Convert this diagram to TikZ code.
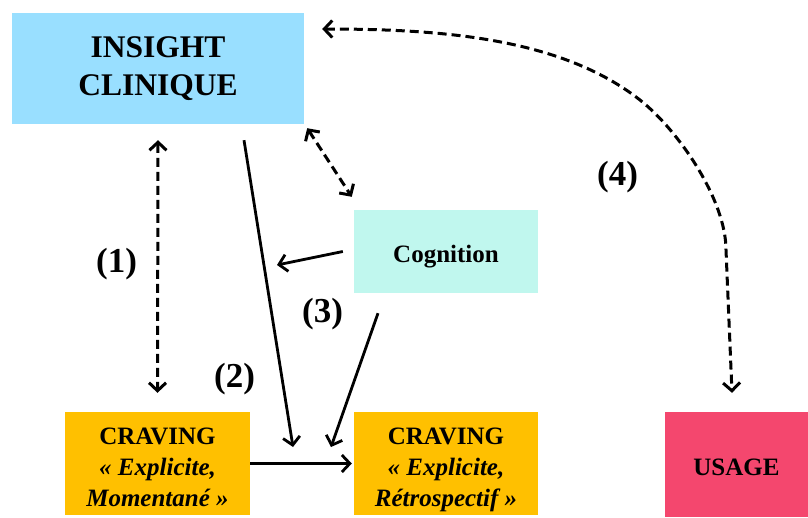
\documentclass[tikz,border=0pt]{standalone}
\usepackage{fontspec}
\setmainfont{Liberation Serif}
\usetikzlibrary{arrows.meta}
\definecolor{insightblue}{HTML}{99DFFF}
\definecolor{cogngreen}{HTML}{C0F7EE}
\definecolor{cravorange}{HTML}{FFC000}
\definecolor{usagered}{HTML}{F4476E}
\newcommand{\toprl}{\rule{0pt}{31pt}}
\newcommand{\botrl}{\rule[-8pt]{0pt}{8pt}}
\begin{document}
\begin{tikzpicture}[x=1pt,y=1pt,
    box/.style={inner sep=0pt,align=center},
    lbl/.style={inner sep=0pt,font=\fontsize{35}{40}\selectfont\bfseries},
    link/.style={line width=2.8pt,-{Straight Barb[length=8pt,width=17pt]}},
    dlink/.style={line width=3pt,dash pattern=on 9pt off 5pt,
      {Straight Barb[length=8pt,width=17pt]}-{Straight Barb[length=8pt,width=17pt]}}]
      \useasboundingbox (0,0) rectangle (808,-517);
      \node[box,fill=insightblue,minimum width=292pt,minimum height=111pt,
        font=\fontsize{31.5}{38}\selectfont\bfseries] (insight) at (158,-68.5) {INSIGHT\\CLINIQUE};
      \node[box,fill=cogngreen,minimum width=184pt,minimum height=83pt,text height=21pt,text depth=0pt,
        font=\fontsize{25}{29}\selectfont\bfseries] (cognition) at (446,-251.5) {Cognition};
      \node[box,fill=cravorange,minimum width=185pt,minimum height=103pt,
        font=\fontsize{25}{31}\selectfont\bfseries] (craving1) at (157.5,-463.5)
        {\toprl CRAVING\\\textit{« Explicite,}\\\textit{Momentané »}\botrl};
      \node[box,fill=cravorange,minimum width=184pt,minimum height=103pt,
        font=\fontsize{25}{31}\selectfont\bfseries] (craving2) at (446,-463.5)
        {\toprl CRAVING\\\textit{« Explicite,}\\\textit{Rétrospectif »}\botrl};
      \node[box,fill=usagered,minimum width=143pt,minimum height=105pt,text height=22pt,text depth=0pt,
        font=\fontsize{25}{30}\selectfont\bfseries] (usage) at (736.5,-464.5) {USAGE};
      \node[lbl] (l1) at (116.5,-264) {(1)};
      \node[lbl] (l2) at (234.5,-379) {(2)};
      \node[lbl] (l3) at (322.5,-314) {(3)};
      \node[lbl] (l4) at (617.5,-177) {(4)};
      \coordinate (m1) at (277,-265);
      \coordinate (m2) at (293,-447);
      \coordinate (m3) at (331,-447);
      \draw[dlink] ([yshift=-16pt]insight.south) -- ([yshift=19pt]craving1.north);
      \draw[dlink] ([shift={(3pt,-4pt)}]insight.south east) -- ([shift={(-2pt,13pt)}]cognition.north west);
      \draw[link] ([shift={(86pt,-16pt)}]insight.south) -- (m2);
      \draw[link] ([xshift=-11pt]cognition.west) -- (m1);
      \draw[link] ([shift={(-68pt,-20pt)}]cognition.south) -- (m3);
      \draw[link] (craving1.east) -- ([xshift=-2pt]craving2.west);
      \draw[dlink] ([shift={(18pt,39.5pt)}]insight.east) .. controls (442,-29) and (561,-38) .. (640,-100)
        .. controls (679,-131) and (726,-200) .. (726,-250) -- ([shift={(-4.5pt,19pt)}]usage.north);
    \end{tikzpicture}
\end{document}
